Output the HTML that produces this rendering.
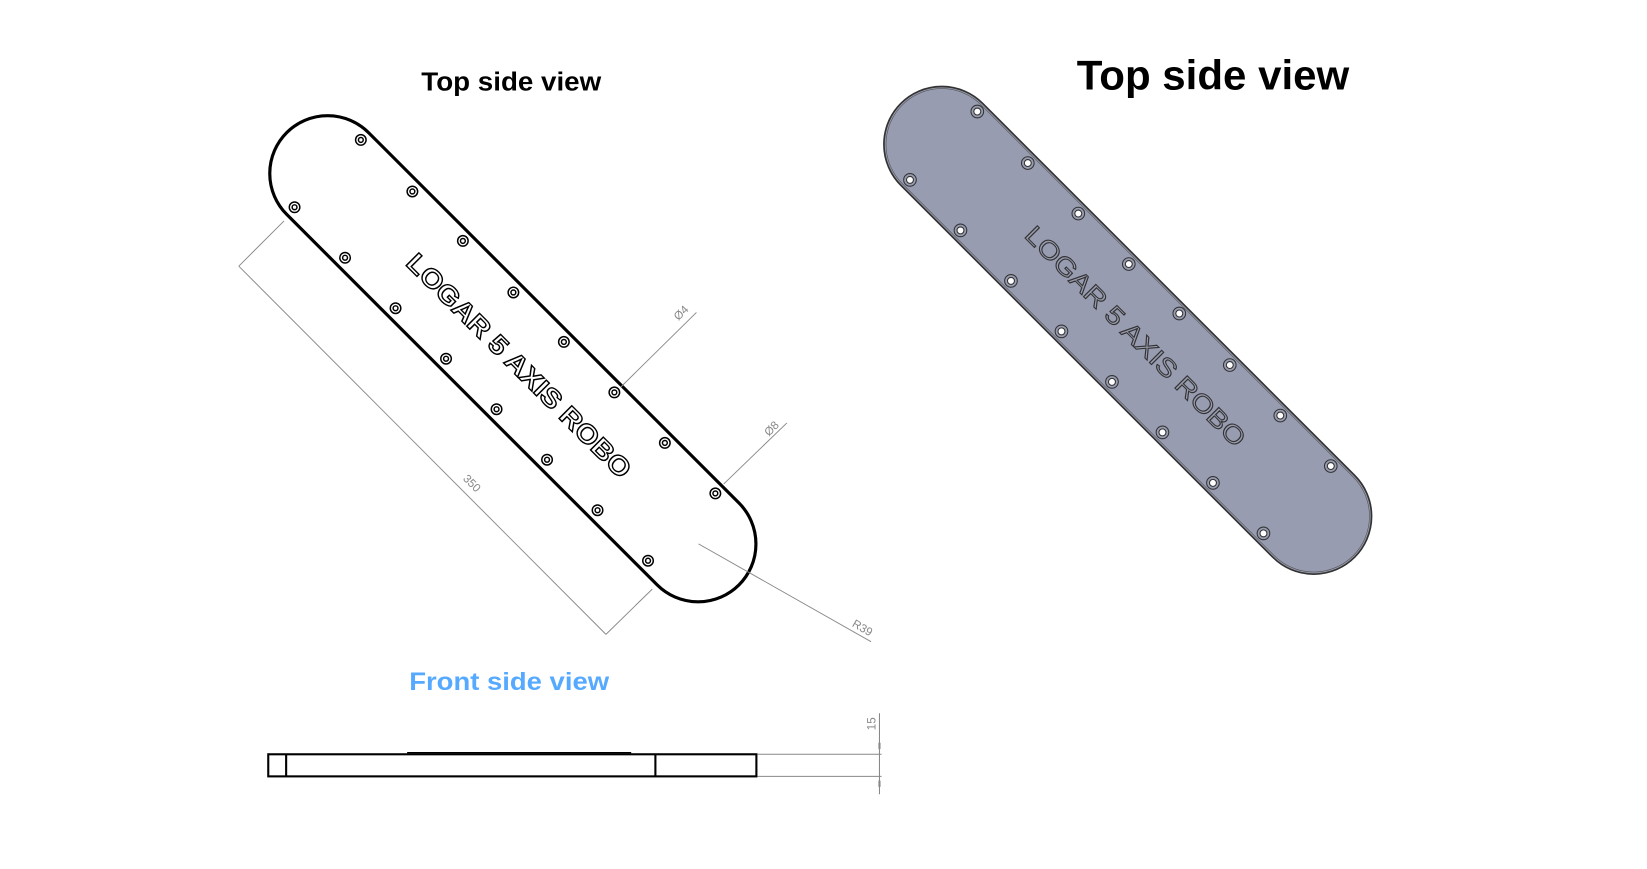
<!DOCTYPE html>
<html><head><meta charset="utf-8"><style>
html,body{margin:0;padding:0;background:#fff;}
svg{display:block;}
text{font-family:"Liberation Sans",sans-serif;}
</style></head><body>
<svg width="1647" height="869" viewBox="0 0 1647 869" xmlns="http://www.w3.org/2000/svg">
<g transform="scale(1.052)">
<text x="486" y="86" font-size="25" font-weight="bold" text-anchor="middle" textLength="171" lengthAdjust="spacingAndGlyphs">Top side view</text>
<rect x="170" y="-55" width="608" height="110" rx="55" transform="translate(487.5,341) rotate(45) translate(-474,0)" fill="none" stroke="#000" stroke-width="3"/>
<g fill="none" stroke="#000" stroke-width="1.4">
<circle cx="343" cy="133" r="5"/><circle cx="343" cy="133" r="2.3"/>
<circle cx="392" cy="182" r="5"/><circle cx="392" cy="182" r="2.3"/>
<circle cx="440" cy="229" r="5"/><circle cx="440" cy="229" r="2.3"/>
<circle cx="488" cy="278" r="5"/><circle cx="488" cy="278" r="2.3"/>
<circle cx="536" cy="325" r="5"/><circle cx="536" cy="325" r="2.3"/>
<circle cx="584" cy="373" r="5"/><circle cx="584" cy="373" r="2.3"/>
<circle cx="632" cy="421" r="5"/><circle cx="632" cy="421" r="2.3"/>
<circle cx="680" cy="469" r="5"/><circle cx="680" cy="469" r="2.3"/>
<circle cx="280" cy="197" r="5"/><circle cx="280" cy="197" r="2.3"/>
<circle cx="328" cy="245" r="5"/><circle cx="328" cy="245" r="2.3"/>
<circle cx="376" cy="293" r="5"/><circle cx="376" cy="293" r="2.3"/>
<circle cx="424" cy="341" r="5"/><circle cx="424" cy="341" r="2.3"/>
<circle cx="472" cy="389" r="5"/><circle cx="472" cy="389" r="2.3"/>
<circle cx="520" cy="437" r="5"/><circle cx="520" cy="437" r="2.3"/>
<circle cx="568" cy="485" r="5"/><circle cx="568" cy="485" r="2.3"/>
<circle cx="616" cy="533" r="5"/><circle cx="616" cy="533" r="2.3"/>
</g>
<text x="0" y="0" transform="translate(492,349) rotate(45)" font-size="25" font-weight="bold" text-anchor="middle" dominant-baseline="middle" fill="#fff" stroke="#000" stroke-width="1.3" textLength="290" lengthAdjust="spacingAndGlyphs">LOGAR 5 AXIS ROBO</text>
<g stroke="#888" stroke-width="0.9" fill="none">
<line x1="270" y1="210" x2="227" y2="253"/>
<line x1="227" y1="253" x2="576" y2="603"/>
<line x1="620" y1="560" x2="576" y2="603"/>
<line x1="590" y1="368" x2="662" y2="297"/>
<line x1="688" y1="460" x2="748" y2="402"/>
<line x1="664" y1="517" x2="828" y2="610"/>
</g>
<g fill="#888" font-size="11">
<text transform="translate(446,462) rotate(45)" text-anchor="middle">350</text>
<text transform="translate(650,300) rotate(-45)" text-anchor="middle">Ø4</text>
<text transform="translate(736,410) rotate(-45)" text-anchor="middle">Ø8</text>
<text transform="translate(818,600) rotate(30)" text-anchor="middle">R39</text>
</g>
<text x="1153" y="85" font-size="40" font-weight="bold" text-anchor="middle" textLength="259" lengthAdjust="spacingAndGlyphs">Top side view</text>
<rect x="0" y="-55" width="610" height="110" rx="55" transform="translate(1072,314) rotate(45) translate(-305,0)" fill="#989cb0" stroke="#333" stroke-width="1.6"/>
<rect x="0" y="-53" width="606" height="106" rx="53" transform="translate(1072,314) rotate(45) translate(-303,0)" fill="none" stroke="#555" stroke-width="0.6"/>
<g fill="none" stroke="#333" stroke-width="1">
<circle cx="929" cy="106" r="6"/><circle cx="977" cy="155" r="6"/><circle cx="1025" cy="203" r="6"/><circle cx="1073" cy="251" r="6"/>
<circle cx="1121" cy="298" r="6"/><circle cx="1169" cy="347" r="6"/><circle cx="1217" cy="395" r="6"/><circle cx="1265" cy="443" r="6"/>
<circle cx="865" cy="171" r="6"/><circle cx="913" cy="219" r="6"/><circle cx="961" cy="267" r="6"/><circle cx="1009" cy="315" r="6"/>
<circle cx="1057" cy="363" r="6"/><circle cx="1105" cy="411" r="6"/><circle cx="1153" cy="459" r="6"/><circle cx="1201" cy="507" r="6"/>
</g>
<g fill="#fff" stroke="#333" stroke-width="1">
<circle cx="929" cy="106" r="3.3"/><circle cx="977" cy="155" r="3.3"/><circle cx="1025" cy="203" r="3.3"/><circle cx="1073" cy="251" r="3.3"/>
<circle cx="1121" cy="298" r="3.3"/><circle cx="1169" cy="347" r="3.3"/><circle cx="1217" cy="395" r="3.3"/><circle cx="1265" cy="443" r="3.3"/>
<circle cx="865" cy="171" r="3.3"/><circle cx="913" cy="219" r="3.3"/><circle cx="961" cy="267" r="3.3"/><circle cx="1009" cy="315" r="3.3"/>
<circle cx="1057" cy="363" r="3.3"/><circle cx="1105" cy="411" r="3.3"/><circle cx="1153" cy="459" r="3.3"/><circle cx="1201" cy="507" r="3.3"/>
</g>
<text transform="translate(1078,321) rotate(45)" font-size="24" text-anchor="middle" dominant-baseline="middle" fill="none" stroke="#333" stroke-width="1" textLength="285" lengthAdjust="spacingAndGlyphs">LOGAR 5 AXIS ROBO</text>
<text x="484" y="656" font-size="24" font-weight="bold" fill="#55aaff" text-anchor="middle" textLength="190" lengthAdjust="spacingAndGlyphs">Front side view</text>
<g fill="none" stroke="#000" stroke-width="2">
<rect x="255" y="717" width="464" height="21"/>
<line x1="272" y1="717" x2="272" y2="738"/>
<line x1="623" y1="717" x2="623" y2="738"/>
</g>
<line x1="387" y1="715.5" x2="600" y2="715.5" stroke="#000" stroke-width="1.3"/>
<g stroke="#888" stroke-width="1" fill="none">
<line x1="720" y1="717" x2="838" y2="717"/>
<line x1="720" y1="738" x2="838" y2="738"/>
<line x1="836" y1="678" x2="836" y2="755"/>
</g>
<rect x="835" y="706" width="2" height="6" fill="#888"/>
<rect x="835" y="742" width="2" height="6" fill="#888"/>
<text transform="translate(832,688) rotate(-90)" font-size="11" fill="#888" text-anchor="middle">15</text>
</g>
</svg>
</body></html>
